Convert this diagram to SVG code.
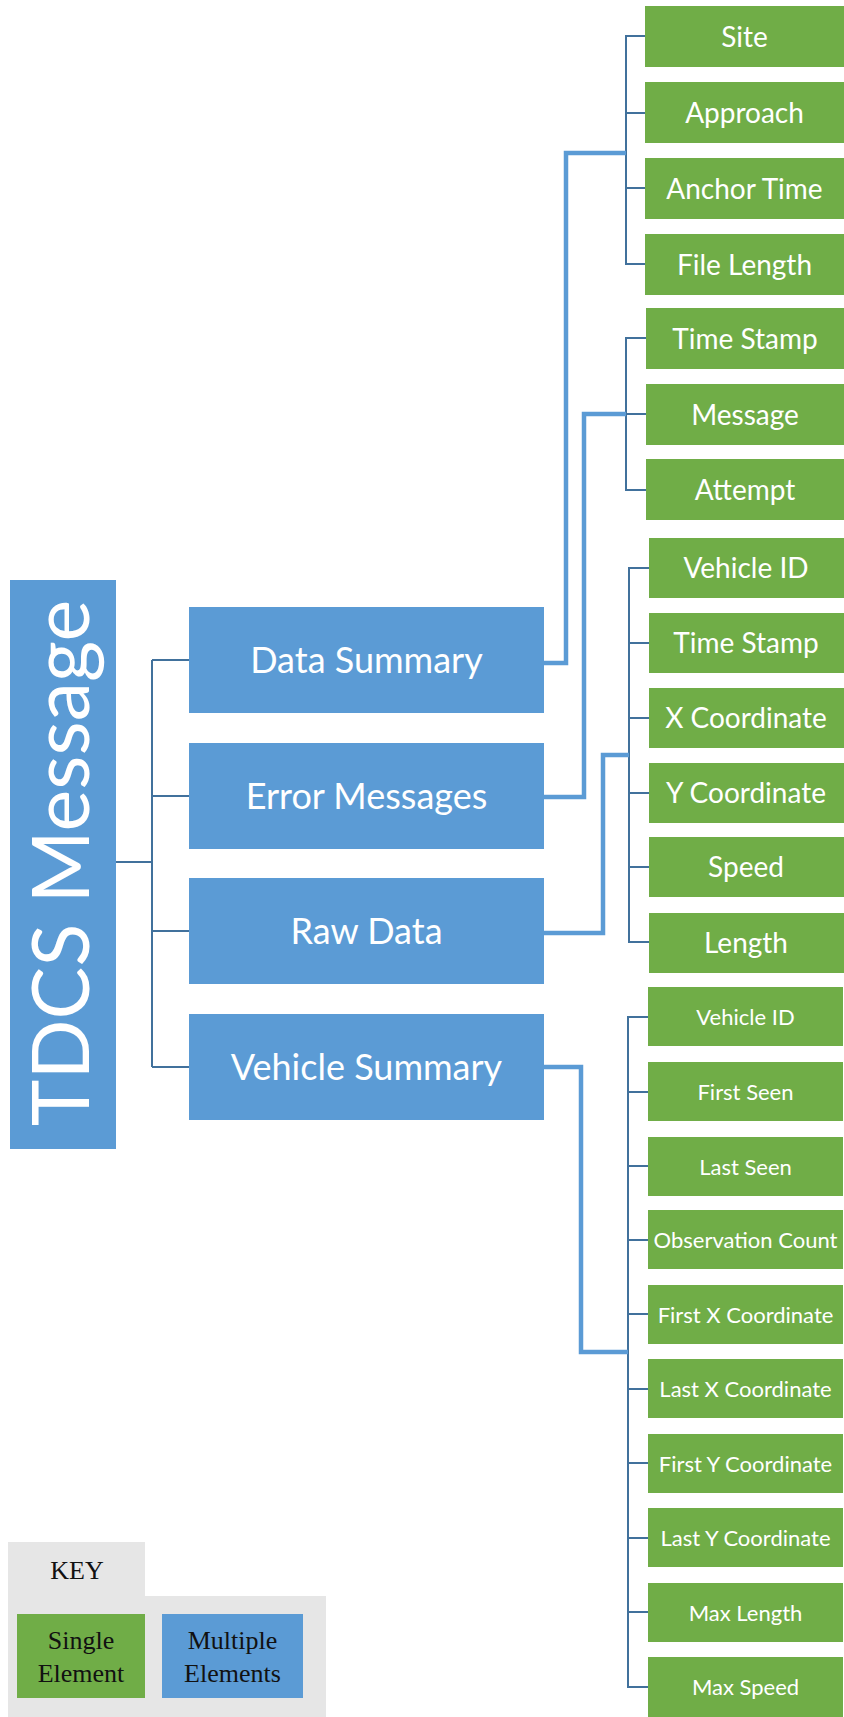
<svg xmlns="http://www.w3.org/2000/svg" width="844" height="1717" viewBox="0 0 844 1717">
<style>
.blue{fill:#5b9bd5}
.green{fill:#70ad47}
.t{font-family:Lato,"Liberation Sans",sans-serif;fill:#fff;text-anchor:middle}
.tb{font-size:36px}
.tg{font-size:28px}
.ts{font-size:22px}
.thin{fill:none;stroke:#41719c;stroke-width:2}
.thick{fill:none;stroke:#5b9bd5;stroke-width:4.5}
.k{font-family:"Liberation Serif",serif;font-size:26px;fill:#111;text-anchor:middle}
</style>
<rect width="844" height="1717" fill="#fff"/>
<g id="connectors">
<path class="thin" d="M116,862 H152 M152,660 V1067 M152,660 H189 M152,796 H189 M152,931 H189 M152,1067 H189"/>
<path class="thin" d="M645,36 H626 V264 H645 M626,113 H645 M626,188 H645"/>
<path class="thin" d="M646,338 H626 V490 H646 M626,414 H646"/>
<path class="thin" d="M649,568 H629 V942 H649 M629,643 H649 M629,718 H649 M629,793 H649 M629,867 H649"/>
<path class="thin" d="M648,1017 H628 V1687 H648 M628,1092 H648 M628,1166 H648 M628,1240 H648 M628,1314 H648 M628,1389 H648 M628,1463 H648 M628,1538 H648 M628,1612 H648"/>
<path class="thick" d="M544,663 H566 V153 H626"/>
<path class="thick" d="M544,797 H584 V414 H626"/>
<path class="thick" d="M544,933 H603 V755 H629"/>
<path class="thick" d="M544,1067 H581 V1352 H628"/>
</g>
<g id="tdcs">
<rect class="blue" x="10" y="580" width="106" height="569"/>
<text class="t" font-size="79" transform="translate(88.6,863) rotate(-90)">TDCS Message</text>
</g>
<g id="data-summary"><rect class="blue" x="189" y="607" width="355" height="106"/><text class="t tb" x="366.5" y="673">Data Summary</text></g>
<g id="error-messages"><rect class="blue" x="189" y="743" width="355" height="106"/><text class="t tb" x="366.5" y="809">Error Messages</text></g>
<g id="raw-data"><rect class="blue" x="189" y="878" width="355" height="106"/><text class="t tb" x="366.5" y="944">Raw Data</text></g>
<g id="vehicle-summary"><rect class="blue" x="189" y="1014" width="355" height="106"/><text class="t tb" x="366.5" y="1080">Vehicle Summary</text></g>

<g id="ds-site"><rect class="green" x="645" y="6" width="199" height="61"/><text class="t tg" x="744.5" y="46.5">Site</text></g>
<g id="ds-approach"><rect class="green" x="645" y="82" width="199" height="61"/><text class="t tg" x="744.5" y="122.5">Approach</text></g>
<g id="ds-anchor"><rect class="green" x="645" y="158" width="199" height="61"/><text class="t tg" x="744.5" y="198.5">Anchor Time</text></g>
<g id="ds-file"><rect class="green" x="645" y="234" width="199" height="61"/><text class="t tg" x="744.5" y="274.5">File Length</text></g>

<g id="em-time"><rect class="green" x="646" y="308" width="198" height="61"/><text class="t tg" x="745" y="348.5">Time Stamp</text></g>
<g id="em-message"><rect class="green" x="646" y="384" width="198" height="61"/><text class="t tg" x="745" y="424.5">Message</text></g>
<g id="em-attempt"><rect class="green" x="646" y="459" width="198" height="61"/><text class="t tg" x="745" y="499.5">Attempt</text></g>

<g id="rd-vid"><rect class="green" x="649" y="538" width="195" height="60"/><text class="t tg" x="746" y="578">Vehicle ID</text></g>
<g id="rd-time"><rect class="green" x="649" y="613" width="195" height="60"/><text class="t tg" x="746" y="653">Time Stamp</text></g>
<g id="rd-x"><rect class="green" x="649" y="688" width="195" height="60"/><text class="t tg" x="746" y="728">X Coordinate</text></g>
<g id="rd-y"><rect class="green" x="649" y="763" width="195" height="60"/><text class="t tg" x="746" y="803">Y Coordinate</text></g>
<g id="rd-speed"><rect class="green" x="649" y="837" width="195" height="60"/><text class="t tg" x="746" y="877">Speed</text></g>
<g id="rd-length"><rect class="green" x="649" y="913" width="195" height="60"/><text class="t tg" x="746" y="953">Length</text></g>

<g id="vs-vid"><rect class="green" x="648" y="987" width="195" height="59"/><text class="t ts" x="745.5" y="1024.5">Vehicle ID</text></g>
<g id="vs-first"><rect class="green" x="648" y="1062" width="195" height="59"/><text class="t ts" x="745.5" y="1099.5">First Seen</text></g>
<g id="vs-last"><rect class="green" x="648" y="1137" width="195" height="59"/><text class="t ts" x="745.5" y="1174.5">Last Seen</text></g>
<g id="vs-obs"><rect class="green" x="648" y="1210" width="195" height="59"/><text class="t ts" x="745.5" y="1247.5">Observation Count</text></g>
<g id="vs-fx"><rect class="green" x="648" y="1285" width="195" height="59"/><text class="t ts" x="745.5" y="1322.5">First X Coordinate</text></g>
<g id="vs-lx"><rect class="green" x="648" y="1359" width="195" height="59"/><text class="t ts" x="745.5" y="1396.5">Last X Coordinate</text></g>
<g id="vs-fy"><rect class="green" x="648" y="1434" width="195" height="59"/><text class="t ts" x="745.5" y="1471.5">First Y Coordinate</text></g>
<g id="vs-ly"><rect class="green" x="648" y="1508" width="195" height="59"/><text class="t ts" x="745.5" y="1545.5">Last Y Coordinate</text></g>
<g id="vs-maxlen"><rect class="green" x="648" y="1583" width="195" height="59"/><text class="t ts" x="745.5" y="1620.5">Max Length</text></g>
<g id="vs-maxspeed"><rect class="green" x="648" y="1657" width="195" height="60"/><text class="t ts" x="745.5" y="1694.5">Max Speed</text></g>

<g id="key">
<path d="M8,1542 H145 V1596 H326 V1717 H8 Z" fill="#e6e6e6"/>
<text class="k" x="77" y="1579">KEY</text>
<rect class="green" x="17" y="1614" width="128" height="84"/>
<text class="k" x="81" y="1649">Single</text>
<text class="k" x="81" y="1682">Element</text>
<rect class="blue" x="162" y="1614" width="141" height="84"/>
<text class="k" x="232.5" y="1649">Multiple</text>
<text class="k" x="232.5" y="1682">Elements</text>
</g>
</svg>
